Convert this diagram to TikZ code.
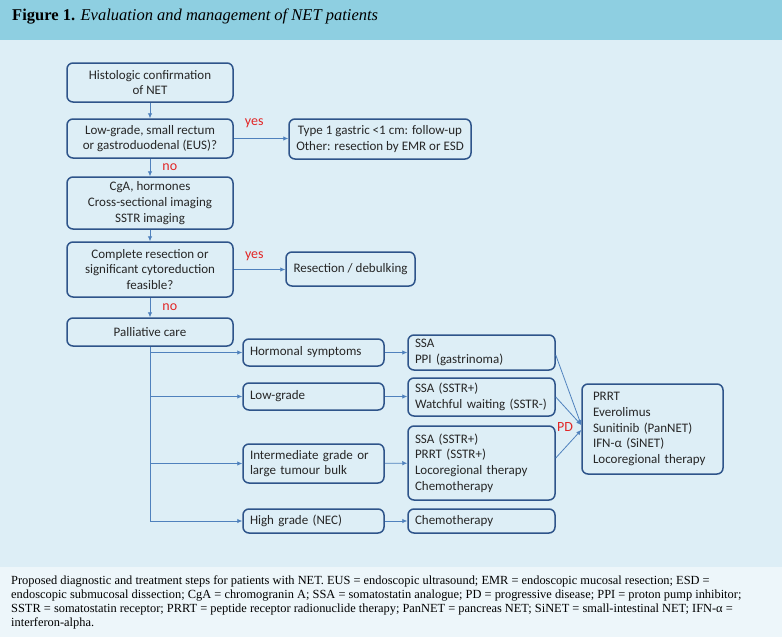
\documentclass[tikz,border=0pt]{standalone}
\usepackage{fontspec}
\setmainfont{Liberation Serif}
\newfontfamily\boxfont{Carlito}
\usetikzlibrary{arrows.meta}

\definecolor{headblue}{RGB}{142,207,225}
\definecolor{mainblue}{RGB}{221,238,246}
\definecolor{capblue}{RGB}{237,246,250}
\definecolor{boxblue}{RGB}{46,84,138}
\definecolor{arrowblue}{RGB}{79,129,189}
\definecolor{labred}{RGB}{226,38,38}
\definecolor{textgray}{RGB}{38,38,38}

\tikzset{
  box/.style={draw=boxblue, line width=1.5pt, rounded corners=6pt, inner sep=0pt,
    align=center, text=textgray, font=\boxfont\fontsize{13}{15.7}\selectfont},
  lbox/.style={box, align=left, text width=#1, inner xsep=7pt, inner ysep=0pt},
  arr/.style={->, draw=arrowblue, line width=0.8pt},
  lab/.style={text=labred, inner sep=0pt, font=\boxfont\fontsize{14}{16}\selectfont}
}

\begin{document}
\begin{tikzpicture}[x=1pt, y=-1pt, >={Latex[length=5pt, width=4.5pt]}]
  % background bands
  \useasboundingbox (0,0) rectangle (782,637);
  \fill[headblue] (0,0) rectangle (782,40);
  \fill[mainblue] (0,40) rectangle (782,567);
  \fill[capblue] (0,567) rectangle (782,637);

  % title
  \node[anchor=base west, inner sep=0pt, font=\fontsize{16.5}{19}\selectfont] (title) at (12,20)
    {\textbf{Figure 1.} \textit{Evaluation and management of NET patients}};

  % diagnostic column
  \node[box, minimum width=166pt, minimum height=39pt] (hist) at (150,82.5)
    {Histologic confirmation\\of NET};
  \node[box, minimum width=166pt, minimum height=39pt] (lowq) at (150,138.5)
    {Low-grade, small rectum\\or gastroduodenal (EUS)?};
  \node[box, minimum width=182pt, minimum height=40pt] (type1) at (380,139)
    {Type 1 gastric <1 cm: follow-up\\Other: resection by EMR or ESD};
  \node[box, minimum width=166pt, minimum height=52pt] (cga) at (150,203)
    {CgA, hormones\\Cross-sectional imaging\\SSTR imaging};
  \node[box, minimum width=166pt, minimum height=55pt] (compl) at (150,269.5)
    {Complete resection or\\significant cytoreduction\\feasible?};
  \node[box, minimum width=129pt, minimum height=34pt] (resec) at (350.5,269)
    {Resection / debulking};
  \node[box, minimum width=166pt, minimum height=28pt] (pall) at (150,332)
    {Palliative care};

  % palliative branches
  \node[lbox=127pt, minimum height=27pt] (horm) at (313.5,352.5) {Hormonal symptoms};
  \node[lbox=127pt, minimum height=27pt] (lowg) at (313.5,396.5) {Low-grade};
  \node[lbox=127pt, minimum height=39pt] (inter) at (313.5,463.5)
    {Intermediate grade or\\large tumour bulk};
  \node[lbox=127pt, minimum height=24pt] (high) at (313.5,521) {High grade (NEC)};

  % treatments
  \node[lbox=133pt, minimum height=35pt] (ssa1) at (481.5,352.5) {SSA\\PPI (gastrinoma)};
  \node[lbox=133pt, minimum height=38pt] (ssa2) at (481.5,397)
    {SSA (SSTR+)\\Watchful waiting (SSTR-)};
  \node[lbox=133pt, minimum height=74pt] (ssa3) at (481.5,463)
    {SSA (SSTR+)\\PRRT (SSTR+)\\Locoregional therapy\\Chemotherapy};
  \node[lbox=133pt, minimum height=24pt] (chemo) at (481.5,521) {Chemotherapy};
  \node[lbox=119pt, inner xsep=11pt, minimum height=90pt] (prrt) at (652.5,429)
    {PRRT\\Everolimus\\Sunitinib (PanNET)\\IFN-α (SiNET)\\Locoregional therapy};

  % connectors
  \draw[arr] (hist) -- (lowq);
  \draw[arr] (lowq.east) -- node[lab, pos=0.375, anchor=base, yshift=13.5pt] (yes1) {yes} (lowq.east -| type1.west);
  \draw[arr] (lowq) -- node[lab, anchor=base west, xshift=12pt, yshift=-3pt] (no1) {no} (cga);
  \draw[arr] (cga) -- (compl);
  \draw[arr] (compl.east) -- node[lab, pos=0.4, anchor=base, yshift=11pt] (yes2) {yes} (compl.east -| resec.west);
  \draw[arr] (compl) -- node[lab, anchor=base west, xshift=12pt, yshift=-3pt] (no2) {no} (pall);

  \draw[arr] (pall.south) |- (horm.west);
  \draw[arr] (pall.south) |- (lowg.west);
  \draw[arr] (pall.south) |- (inter.west);
  \draw[arr] (pall.south) |- (high.west);

  \draw[arr] (horm) -- (ssa1);
  \draw[arr] (lowg.east) -- (lowg.east -| ssa2.west);
  \draw[arr] (inter) -- (ssa3);
  \draw[arr] (high) -- (chemo);

  % progressive disease
  \draw[arr] ([yshift=-2.5pt]ssa1.east) -- ([yshift=4pt]prrt.west);
  \draw[arr] (ssa2.east) -- ([yshift=4pt]prrt.west);
  \draw[arr] ([yshift=5pt]ssa3.east) -- ([yshift=-1pt]prrt.west);
  \node[lab] (pd) at (565,427) {PD};

  % caption
  \node[anchor=base west, inner sep=0pt, align=left, text=black, font=\fontsize{12.4}{14}\selectfont] (cap) at (11,626)
    {Proposed diagnostic and treatment steps for patients with NET. EUS = endoscopic ultrasound; EMR = endoscopic mucosal resection; ESD =\\
     endoscopic submucosal dissection; CgA = chromogranin A; SSA = somatostatin analogue; PD = progressive disease; PPI = proton pump inhibitor;\\
     SSTR = somatostatin receptor; PRRT = peptide receptor radionuclide therapy; PanNET = pancreas NET; SiNET = small-intestinal NET; IFN-α =\\
     interferon-alpha.};
\end{tikzpicture}
\end{document}
